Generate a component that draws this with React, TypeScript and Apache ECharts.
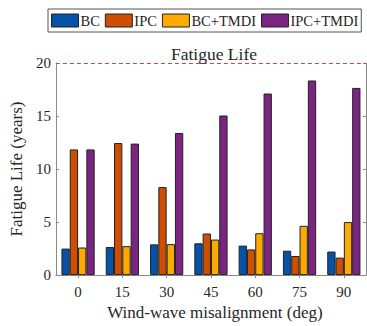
import React, { useEffect, useRef } from "react";
import * as echarts from "echarts";

const categories = ["0", "15", "30", "45", "60", "75", "90"];
const seriesNames = ["BC", "IPC", "BC+TMDI", "IPC+TMDI"];
const bcValues = [2.5, 2.65, 2.9, 3.0, 2.78, 2.3, 2.22];
const ipcValues = [11.85, 12.45, 8.3, 3.92, 2.42, 1.8, 1.65];
const bcTmdiValues = [2.6, 2.73, 2.92, 3.35, 3.95, 4.65, 5.0];
const ipcTmdiValues = [11.85, 12.4, 13.4, 15.05, 17.12, 18.35, 17.65];
const yTicks = [0, 5, 10, 15, 20];
const limitValue = 20;

const colors = ["#0553a8", "#d04e02", "#ffaa00", "#7b2582"];
const FONT = "'Liberation Serif', 'Times New Roman', serif";
const TXT = "#262626";
const AX = "#8a8a8a";

export default function App() {
  const ref = useRef<HTMLDivElement>(null);
  useEffect(() => {
    if (!ref.current) return;
    const chart = echarts.init(ref.current, undefined, { renderer: "svg" });
    const allValues = [bcValues, ipcValues, bcTmdiValues, ipcTmdiValues];
    const axisLine = { show: true, lineStyle: { color: AX, width: 1 } };
    const tick = { show: true, inside: true, length: 3, lineStyle: { color: AX } };
    chart.setOption({
      animation: false,
      backgroundColor: "#ffffff",
      title: {
        text: "Fatigue Life",
        left: 209,
        textAlign: "center",
        top: 40,
        textStyle: { fontFamily: FONT, fontSize: 17.5, fontWeight: "normal", color: TXT },
      },
      legend: {
        data: seriesNames,
        left: 48,
        top: 9,
        itemWidth: 27,
        itemHeight: 13,
        itemGap: 5,
        padding: [4, 3, 4, 3],
        borderColor: "#555",
        borderWidth: 1,
        icon: "rect",
        itemStyle: { borderColor: "#222", borderWidth: 1 },
        textStyle: { fontFamily: FONT, fontSize: 14.5, color: TXT, padding: [0, 0, 0, -3] },
      },
      grid: {
        left: 50,
        right: 1,
        top: 63,
        bottom: 43,
        show: false,
      },
      xAxis: [
        {
          type: "category",
          data: categories,
          position: "bottom",
          axisLine,
          axisTick: { ...tick, alignWithLabel: true },
          axisLabel: { fontFamily: FONT, fontSize: 15, color: TXT, margin: 9 },
          name: "Wind-wave misalignment (deg)",
          nameLocation: "middle",
          nameGap: 26,
          nameTextStyle: { fontFamily: FONT, fontSize: 17, color: TXT, padding: [0, 0, 0, 8] },
        },
        {
          type: "category",
          data: categories,
          position: "top",
          axisLine: { show: false },
          axisTick: { ...tick, alignWithLabel: true },
          axisLabel: { show: false },
        },
      ],
      yAxis: [
        {
          type: "value",
          min: 0,
          max: 20,
          interval: 5,
          position: "left",
          axisLine,
          splitLine: { show: false },
          axisTick: tick,
          axisLabel: {
            fontFamily: FONT,
            fontSize: 15,
            color: TXT,
            margin: 5,
            customValues: yTicks,
          },
          name: "Fatigue Life (years)",
          nameLocation: "middle",
          nameGap: 24,
          nameTextStyle: { fontFamily: FONT, fontSize: 17, color: TXT },
        },
        {
          type: "value",
          min: 0,
          max: 20,
          interval: 5,
          position: "right",
          axisLine,
          splitLine: { show: false },
          axisTick: tick,
          axisLabel: { show: false },
        },
      ],
      series: seriesNames.map((name, i) => ({
        name,
        type: "bar",
        data: allValues[i],
        barGap: "0%",
        barCategoryGap: "25%",
        clip: false,
        itemStyle: { color: colors[i], borderColor: "#222", borderWidth: 1 },
        ...(i === 0
          ? {
              markLine: {
                silent: true,
                symbol: "none",
                label: { show: false },
                lineStyle: { color: "#e0403a", type: [4, 3], width: 1 },
                data: [{ yAxis: limitValue }],
              },
            }
          : {}),
      })),
    });
    return () => chart.dispose();
  }, []);
  return (
    <div
      ref={ref}
      style={{ position: "fixed", left: 0, top: 0, width: 367, height: 326 }}
    />
  );
}
